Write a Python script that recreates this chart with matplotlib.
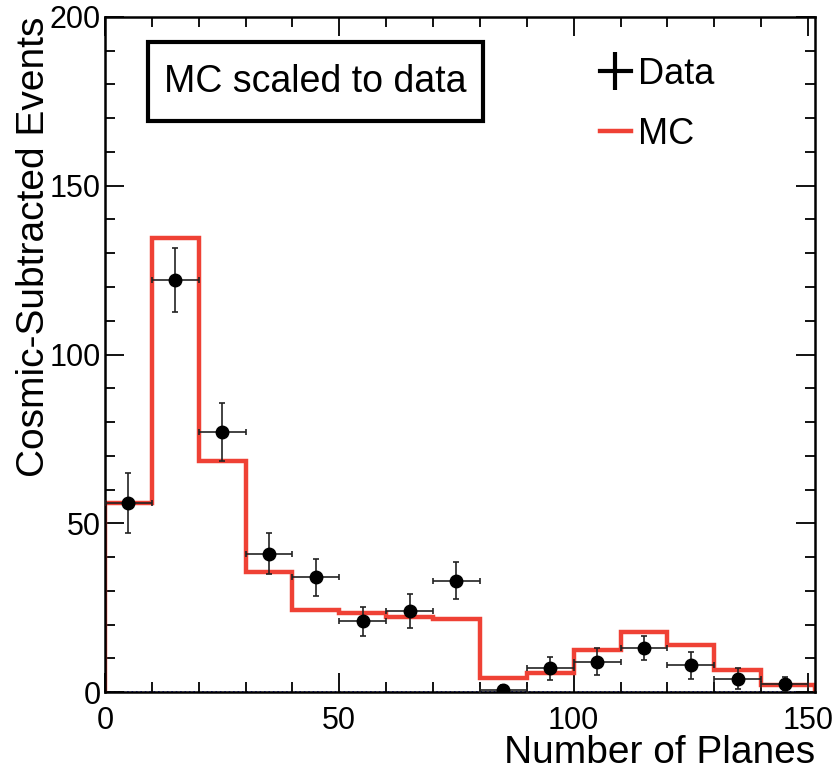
import numpy as np
import matplotlib
matplotlib.use("Agg")
import matplotlib.pyplot as plt
from matplotlib.patches import Rectangle
from matplotlib.lines import Line2D
from matplotlib.ticker import MultipleLocator

plt.rcParams['font.family'] = ['Liberation Sans', 'DejaVu Sans']

# bin edges (number of planes) and contents; last bin runs to the axis end
edges = [0, 10, 20, 30, 40, 50, 60, 70, 80, 90, 100, 110, 120, 130, 140, 151.5]
mc = [56, 134.5, 68.5, 35.5, 24.3, 23.3, 22.3, 21.5, 4.1, 5.6, 12.4, 17.8, 14, 6.5, 2]
data = [56, 122, 77, 41, 34, 21, 24, 33, 0.7, 7, 9, 13, 8, 4, 2.4]
data_err = [9, 9.5, 8.5, 6, 5.5, 4.3, 5, 5.5, 1.5, 3.5, 4, 3.5, 4, 3, 2]
bin_width = 10

centers = np.array(edges[:-1]) + bin_width / 2

fig = plt.figure(figsize=(8.34, 7.72), dpi=100)
ax = fig.add_axes([0.1259, 0.1036, 0.8513, 0.8744])

ax.axhline(0, color='blue', linestyle=':', linewidth=1.2, zorder=1)
mc_line = ax.stairs(mc, edges, color='#ef4135', linewidth=3.2, zorder=2)
ax.errorbar(centers, data, xerr=bin_width / 2, yerr=data_err, fmt='o',
            color='black', ms=9, ecolor='#222222', elinewidth=1.2,
            capsize=2.5, capthick=1.2, zorder=3)

ax.set_xlim(0, 151.5)
ax.set_ylim(0, 200)
ax.set_xticks([0, 50, 100, 150])
ax.set_yticks([0, 50, 100, 150, 200])
ax.xaxis.set_minor_locator(MultipleLocator(10))
ax.yaxis.set_minor_locator(MultipleLocator(10))
ax.tick_params(which='both', direction='in', top=True, right=True,
               width=1.3, labelsize=22)
ax.tick_params(which='major', length=14)
ax.tick_params(which='minor', length=7)
ax.tick_params(axis='x', pad=10)
ax.tick_params(axis='y', pad=3)
for sp in ax.spines.values():
    sp.set_linewidth(1.8)

ax.set_xlabel('Number of Planes', fontsize=28, loc='right', labelpad=-1)
ax.set_ylabel('Cosmic-Subtracted Events', fontsize=28, loc='top', labelpad=-2)

# label box
ax.add_patch(Rectangle((0.0606, 0.846), 0.4714, 0.117, transform=ax.transAxes,
                       fill=False, edgecolor='black', linewidth=3, zorder=4))
ax.text(0.2965, 0.9044, 'MC scaled to data', transform=ax.transAxes,
        fontsize=27, ha='center', va='center', zorder=5)

# ROOT-style legend: data shown as a cross
data_key = Line2D([], [], color='black', lw=3, marker='|', ms=27, mew=3)
ax.legend([data_key, mc_line], ['Data', 'MC'], loc='upper left',
          bbox_to_anchor=(0.697, 0.941), frameon=False, fontsize=26,
          handlelength=0.85, handletextpad=0.22, labelspacing=0.7,
          borderpad=0, borderaxespad=0)

fig.savefig('out.png', dpi=100)
